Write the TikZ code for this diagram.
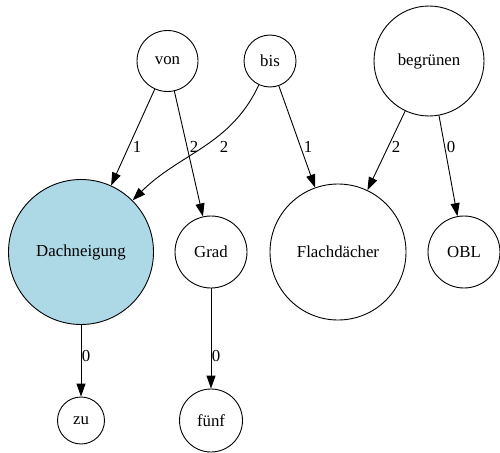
\documentclass[tikz,border=0pt]{standalone}
\usepackage{fontspec}
\setmainfont{Liberation Serif}
\usetikzlibrary{arrows.meta}
\definecolor{gvlightblue}{RGB}{173,216,230}
\begin{document}
\begin{tikzpicture}[x=1pt,y=-1pt,
  vtx/.style={draw=black,circle,line width=0.9pt,inner sep=0pt,font=\fontsize{16.8}{20}\selectfont},
  edge/.style={draw=black,line width=0.9pt,-{Triangle[length=13pt,width=9pt]}},
  lbl/.style={font=\fontsize{16.8}{20}\selectfont,inner sep=0pt}]
\useasboundingbox (0,0) rectangle (500,452);
\node[vtx,minimum size=61pt] (von) at (167.5,61) {von};
\node[vtx,minimum size=52pt] (bis) at (270,61) {bis};
\node[vtx,minimum size=110pt] (beg) at (429,61) {begrünen};
\node[vtx,minimum size=145pt,fill=gvlightblue] (dach) at (81,252) {Dachneigung};
\node[vtx,minimum size=72pt] (grad) at (211,252) {Grad};
\node[vtx,minimum size=136pt] (flach) at (338,252) {Flachdächer};
\node[vtx,minimum size=72pt] (obl) at (464,252) {OBL};
\node[vtx,minimum size=47pt] (zu) at (81,420.5) {zu};
\node[vtx,minimum size=63pt] (fuenf) at (211,420.5) {fünf};
\draw[edge] (von) -- (dach) node[lbl] at (137,147) {1};
\draw[edge] (von) -- (grad) node[lbl] at (194,147) {2};
\draw[edge] (bis) to[out=-115,in=45] (dach);
\node[lbl] (lb3) at (224,147) {2};
\draw[edge] (bis) -- (flach) node[lbl] at (308,147) {1};
\draw[edge] (beg) -- (flach) node[lbl] at (396,147) {2};
\draw[edge] (beg) -- (obl) node[lbl] at (451,147) {0};
\draw[edge] (dach) -- (zu) node[lbl] at (86,356) {0};
\draw[edge] (grad) -- (fuenf) node[lbl] at (216,356) {0};
\end{tikzpicture}
\end{document}
